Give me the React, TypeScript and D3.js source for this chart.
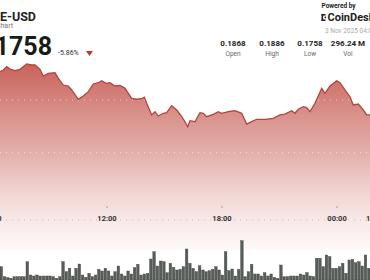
import React from "react";
import * as d3 from "d3";

// Price line: hours since 2 Nov 00:00 (values > 24 are 3 Nov) and price in USD
const hours = [6.16, 6.418, 6.59, 6.768, 6.94, 7.199, 7.462, 7.811, 8.072, 8.244, 8.505, 8.677, 8.938, 9.287, 9.46, 9.72, 9.981, 10.159, 10.503, 10.764, 11.025, 11.285, 11.546, 11.724, 11.948, 12.156, 12.417, 12.678, 12.939, 13.288, 13.549, 13.81, 13.946, 14.071, 14.332, 14.504, 14.676, 14.937, 15.114, 15.375, 15.636, 15.897, 16.069, 16.21, 16.33, 16.591, 16.851, 17.024, 17.201, 17.545, 17.806, 17.983, 18.328, 18.677, 19.027, 19.287, 19.548, 19.809, 20.242, 20.675, 21.025, 21.285, 21.635, 21.807, 21.979, 22.24, 22.417, 22.59, 22.85, 23.2, 23.372, 23.633, 23.982, 24.154, 24.415, 24.676, 24.848, 25.109, 25.37, 25.548, 25.72, 25.98];
const prices = [0.18756, 0.18769, 0.18785, 0.18816, 0.18794, 0.18778, 0.18791, 0.18842, 0.18832, 0.18832, 0.18791, 0.18728, 0.18753, 0.18759, 0.18706, 0.18642, 0.18633, 0.18595, 0.18507, 0.18538, 0.18579, 0.18652, 0.18664, 0.18683, 0.18658, 0.18664, 0.18633, 0.18639, 0.18611, 0.18516, 0.18507, 0.18512, 0.18526, 0.18469, 0.18358, 0.18389, 0.18348, 0.18374, 0.1838, 0.18446, 0.18405, 0.18342, 0.18294, 0.18247, 0.18304, 0.18294, 0.1838, 0.18374, 0.18342, 0.18364, 0.18389, 0.18374, 0.18389, 0.18398, 0.18374, 0.18272, 0.18294, 0.18317, 0.18317, 0.18326, 0.18358, 0.18367, 0.18398, 0.18374, 0.18412, 0.18436, 0.18427, 0.18389, 0.18469, 0.18611, 0.18564, 0.18633, 0.18683, 0.18664, 0.18595, 0.18531, 0.18453, 0.18462, 0.18405, 0.18358, 0.18358, 0.18329];

// Volume per 10-minute bar (visible window)
const volumes = [13.3, 3.3, 2.3, 1.7, 3.3, 3.3, 3.3, 3.3, 18.3, 5, 4, 5, 4, 4, 4, 4, 3.3, 1.7, 3.3, 18.3, 8.3, 11.7, 4, 11.7, 16, 5, 2.7, 6.7, 3.3, 5, 10.7, 9, 11.7, 9, 4, 8.3, 14, 6, 4, 9, 6, 12.3, 15.7, 5, 6, 6.7, 21, 28.3, 14, 19, 18.3, 7.3, 16.7, 12.7, 10, 10.7, 13.3, 31, 16.7, 11.7, 8.3, 14.3, 10, 8.3, 9.3, 10.7, 13.3, 10, 5, 28.3, 9.3, 11, 4, 10.7, 39.3, 3.3, 8.3, 15.7, 6, 6, 4, 7.3, 4, 6, 2.7, 1.7, 15, 3.3, 3.3, 4, 4, 4, 6, 5, 7.3, 4, 3.3, 21.7, 21.7, 13.3, 25, 23.3, 11.7, 11.7, 13.3, 16.7, 6.7, 20, 20.7, 17.3, 18.3, 14, 25, 11.7];

const tickHours = [6, 12, 18, 24, 30];
const tickLabels = ["06:00", "12:00", "18:00", "00:00", "1"];
const gridPrices = [0.18, 0.185];

const statValues = ["0.1868", "0.1886", "0.1758", "296.24 M"];
const statLabels = ["Open", "High", "Low", "Vol"];

const W = 370;
const H = 280;

export default function App() {
  const x = d3.scaleLinear().domain([6.418, 25.72]).range([0, W]);
  const y = d3.scaleLinear().domain([0.18, 0.185]).range([152.7, 100]);
  const baseY = 250;
  const data = hours.map((h, i) => ({ h, p: prices[i] }));
  const area = d3
    .area<{ h: number; p: number }>()
    .x((d) => x(d.h))
    .y0(baseY)
    .y1((d) => y(d.p))
    .curve(d3.curveLinear);
  const line = d3
    .line<{ h: number; p: number }>()
    .x((d) => x(d.h))
    .y((d) => y(d.p));

  const xb = d3
    .scaleBand<number>()
    .domain(volumes.map((_, i) => i))
    .range([0, W])
    .paddingInner(0.22);
  const yv = d3.scaleLinear().domain([0, 40]).range([280, 240]);

  const statX = [233, 272, 310, 348];
  const font = "Roboto, 'Open Sans', sans-serif";

  return (
    <svg
      width={W}
      height={H}
      style={{ position: "absolute", left: 0, top: 0, background: "#fff" }}
      fontFamily={font}
    >
      <defs>
        <linearGradient id="areaGrad" gradientUnits="userSpaceOnUse" x1="0" y1="60" x2="0" y2={baseY}>
          <stop offset="0" stopColor="#c4554d" stopOpacity="0.95" />
          <stop offset="0.5" stopColor="#d17d76" stopOpacity="0.6" />
          <stop offset="1" stopColor="#e6b3ae" stopOpacity="0.08" />
        </linearGradient>
      </defs>
      <rect x={0} y={0} width={W} height={H} fill="#fff" />
      <path d={area(data) || ""} fill="url(#areaGrad)" />
      {gridPrices.map((g) => (
        <line key={g} x1={0} x2={W} y1={y(g)} y2={y(g)} stroke="#ffffff" strokeOpacity={0.6} strokeWidth={1} strokeDasharray="1,5" />
      ))}
      <path d={line(data) || ""} fill="none" stroke="#b3443c" strokeWidth={1.3} />
      {/* x axis */}
      <line x1={0} x2={W} y1={220} y2={220} stroke="#d9b5b2" strokeWidth={1} strokeDasharray="1,5" />
      {tickHours.map((t, i) => (
        <g key={t}>
          <line x1={x(t)} x2={x(t)} y1={206} y2={208} stroke="#b99" strokeWidth={1} />
          <text
            x={i === 4 ? 366 : x(t)}
            y={221}
            textAnchor={i === 4 ? "start" : "middle"}
            fontSize={7.5}
            fontWeight={700}
            fill="#333"
          >
            {tickLabels[i]}
          </text>
        </g>
      ))}
      {/* volume bars */}
      {volumes.map((v, i) => (
        <rect key={i} x={xb(i)} y={yv(v)} width={xb.bandwidth()} height={280 - yv(v)} fill="#575d58" stroke="#3e433f" strokeWidth={0.4} />
      ))}
      {/* header left */}
      <text x={36} y={20.5} textAnchor="end" fontSize={12.5} fontWeight={700} fill="#222">DOGE-USD</text>
      <text x={13} y={28} textAnchor="end" fontSize={7} fill="#777">Chart</text>
      <text x={52} y={55} textAnchor="end" fontSize={25} fontWeight={700} fill="#1a1a1a">0.1758</text>
      <text x={58} y={55} fontSize={7} fill="#333">-5.86%</text>
      <path d="M86,51 L93,51 L89.5,56 Z" fill="#c0392b" />
      {/* header right */}
      <text x={321.5} y={8} fontSize={6.5} fontWeight={700} fill="#222">Powered by</text>
      <g fill="#222">
        <rect x={321.5} y={14} width={1.6} height={7} />
        <rect x={321.5} y={14} width={4} height={1.6} />
        <rect x={321.5} y={19.4} width={4} height={1.6} />
        <rect x={324.5} y={16.6} width={1.6} height={1.6} />
      </g>
      <text x={327.5} y={21.3} fontSize={11} fontWeight={700} fill="#222">CoinDesk</text>
      <text x={325} y={33} fontSize={6.5} fill="#aaa">3 Nov 2025 04:00</text>
      {statValues.map((s, i) => (
        <g key={s}>
          <text x={statX[i]} y={46} textAnchor="middle" fontSize={8} fontWeight={700} fill="#222">{s}</text>
          <text x={statX[i]} y={56} textAnchor="middle" fontSize={6.5} fill="#666">{statLabels[i]}</text>
        </g>
      ))}
    </svg>
  );
}
